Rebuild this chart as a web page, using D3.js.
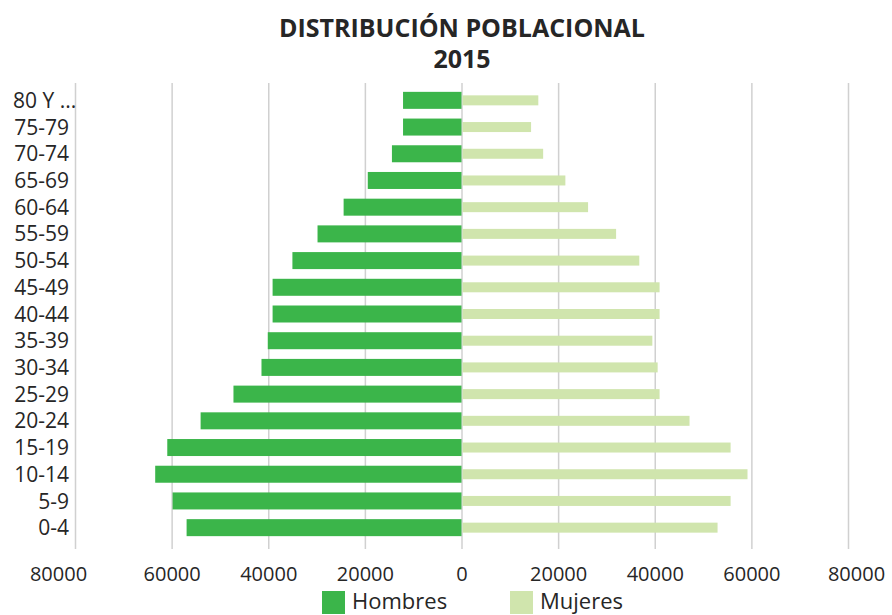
<!DOCTYPE html>
<html lang="es">
<head>
<meta charset="UTF-8">
<title>Distribución poblacional 2015</title>
<script src="https://cdn.jsdelivr.net/npm/d3@7/dist/d3.min.js"></script>
<style>
  body { margin: 0; background: #fff; }
  text { font-family: "Open Sans", sans-serif; fill: #262626; }
</style>
</head>
<body>
<svg id="main" width="892" height="615"></svg>
<script>
  // age groups, top to bottom
  const groups = ["80 Y ...", "75-79", "70-74", "65-69", "60-64", "55-59", "50-54", "45-49",
                  "40-44", "35-39", "30-34", "25-29", "20-24", "15-19", "10-14", "5-9", "0-4"];
  const hombres = [12100, 12100, 14400, 19400, 24400, 29800, 35000, 39100,
                   39100, 40100, 41400, 47200, 54000, 60900, 63400, 59800, 56900];
  const mujeres = [15900, 14400, 16900, 21500, 26200, 32000, 36800, 41000,
                   41000, 39500, 40600, 41000, 47200, 55700, 59200, 55700, 53000];
  const tickVals = [-80000, -60000, -40000, -20000, 0, 20000, 40000, 60000, 80000];
  const seriesNames = ["Hombres", "Mujeres"];
  const colors = ["#3bb54a", "#d0e5ad"];

  const svg = d3.select("#main");
  const gridTop = 83, gridBottom = 545;

  const x = d3.scaleLinear().domain([-80000, 80000]).range([75, 848]);
  const y = d3.scaleBand().domain(groups).range([87, 541]);

  // title
  svg.append("text").attr("x", 462).attr("y", 37).attr("text-anchor", "middle")
    .style("font-size", "25px").style("font-weight", "700").text("DISTRIBUCIÓN POBLACIONAL");
  svg.append("text").attr("x", 462).attr("y", 68).attr("text-anchor", "middle")
    .style("font-size", "25px").style("font-weight", "700").text("2015");

  // grid + axis
  const axis = svg.append("g").attr("transform", `translate(0,${gridBottom})`)
    .call(d3.axisBottom(x).tickValues(tickVals).tickSize(4)
      .tickFormat(d => Math.abs(d)));
  axis.select(".domain").remove();
  axis.selectAll(".tick line").attr("stroke", "#d0d0d0").attr("stroke-width", 1.5)
    .attr("y1", gridTop - gridBottom);
  axis.selectAll(".tick text")
    .attr("y", 22)
    .style("font-size", "20px")
    .attr("dx", (d, i) => i === 0 ? -17 : (i === tickVals.length - 1 ? 8 : 0));

  // bars
  const rows = groups.map((g, i) => ({ g, h: hombres[i], m: mujeres[i] }));
  svg.append("g").selectAll("rect").data(rows).join("rect")
    .attr("x", d => x(-d.h))
    .attr("width", d => x(0) - x(-d.h))
    .attr("y", d => y(d.g) + y.bandwidth() / 2 - 8.5)
    .attr("height", 17)
    .attr("fill", colors[0]);
  svg.append("g").selectAll("rect").data(rows).join("rect")
    .attr("x", x(0) + 1)
    .attr("width", d => x(d.m) - x(0) - 1)
    .attr("y", d => y(d.g) + y.bandwidth() / 2 - 5)
    .attr("height", 10)
    .attr("fill", colors[1]);

  // category labels (the truncated top label starts at the left margin)
  svg.append("g").selectAll("text").data(groups).join("text")
    .attr("x", (d, i) => i === 0 ? 13 : 69)
    .attr("y", d => y(d) + y.bandwidth() / 2)
    .attr("dy", "0.36em")
    .attr("text-anchor", (d, i) => i === 0 ? "start" : "end")
    .style("font-size", "21px")
    .text(d => d);

  // legend
  const legX = [322, 510];
  const leg = svg.append("g").selectAll("g").data(seriesNames).join("g")
    .attr("transform", (d, i) => `translate(${legX[i]},591)`);
  leg.append("rect").attr("width", 23).attr("height", 23).attr("fill", (d, i) => colors[i]);
  leg.append("text").attr("x", 30).attr("y", 18).style("font-size", "22px").text(d => d);
</script>
</body>
</html>
